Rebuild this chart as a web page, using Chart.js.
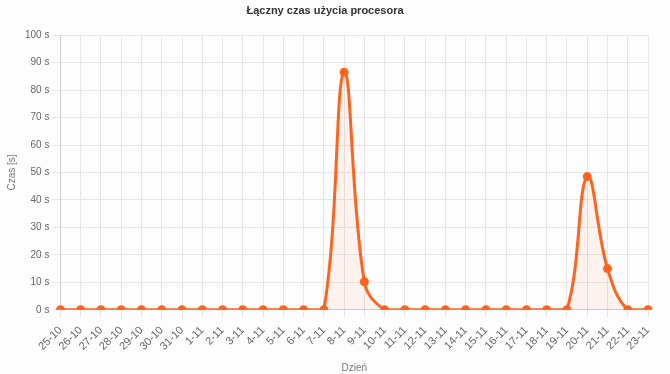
<!DOCTYPE html>
<html>
<head>
<meta charset="utf-8">
<script src="https://cdn.jsdelivr.net/npm/chart.js@4/dist/chart.umd.min.js"></script>
<style>
    html, body { margin: 0; padding: 0; background: #fdfdfd; }
    #wrap { width: 670px; height: 374px; }
</style>
</head>
<body>
<div id="wrap"><canvas id="cpuChart"></canvas></div>
<script>
// Dni (etykiety osi X)
const days = ['25-10', '26-10', '27-10', '28-10', '29-10', '30-10', '31-10',
    '1-11', '2-11', '3-11', '4-11', '5-11', '6-11', '7-11', '8-11', '9-11',
    '10-11', '11-11', '12-11', '13-11', '14-11', '15-11', '16-11', '17-11',
    '18-11', '19-11', '20-11', '21-11', '22-11', '23-11'];

// Łączny czas użycia procesora [s]
const cpuSeconds = [0, 0, 0, 0, 0, 0, 0,
    0, 0, 0, 0, 0, 0, 0, 86.5, 10.2,
    0, 0, 0, 0, 0, 0, 0, 0,
    0, 0, 48.5, 15, 0, 0];

const lineColor = 'rgb(255, 100, 30)';
const fontFamily = "'Liberation Sans', Arial, sans-serif";

new Chart(document.getElementById('cpuChart'), {
    type: 'line',
    data: {
        labels: days,
        datasets: [{
            label: 'Czas',
            data: cpuSeconds,
            borderColor: lineColor,
            backgroundColor: 'rgba(255, 100, 30, 0.07)',
            pointBackgroundColor: lineColor,
            pointBorderColor: lineColor,
            pointRadius: 3,
            borderWidth: 3,
            tension: 0.4,
            fill: true
        }]
    },
    options: {
        responsive: true,
        maintainAspectRatio: false,
        animation: false,
        layout: { padding: { right: 22, left: 2, bottom: 0 } },
        plugins: {
            legend: { display: false },
            title: {
                display: true,
                text: 'Łączny czas użycia procesora',
                color: '#333',
                font: { family: fontFamily, size: 11, weight: 'bold' },
                padding: { top: 4, bottom: 18 }
            }
        },
        scales: {
            x: {
                title: {
                    display: true,
                    text: 'Dzień',
                    color: '#777',
                    font: { family: fontFamily, size: 10 },
                    padding: { top: 3, bottom: 0 }
                },
                ticks: {
                    color: '#666',
                    font: { family: fontFamily, size: 11 },
                    padding: 6,
                    autoSkip: false,
                    minRotation: 45,
                    maxRotation: 45
                },
                grid: { color: '#e6e6e6' }
            },
            y: {
                min: 0,
                max: 100,
                title: {
                    display: true,
                    text: 'Czas [s]',
                    color: '#777',
                    font: { family: fontFamily, size: 10 }
                },
                ticks: {
                    stepSize: 10,
                    color: '#666',
                    font: { family: fontFamily, size: 10 },
                    callback: function(value) {
                        return value + ' s';
                    }
                },
                grid: { color: '#e6e6e6' }
            }
        }
    }
});
</script>
</body>
</html>
